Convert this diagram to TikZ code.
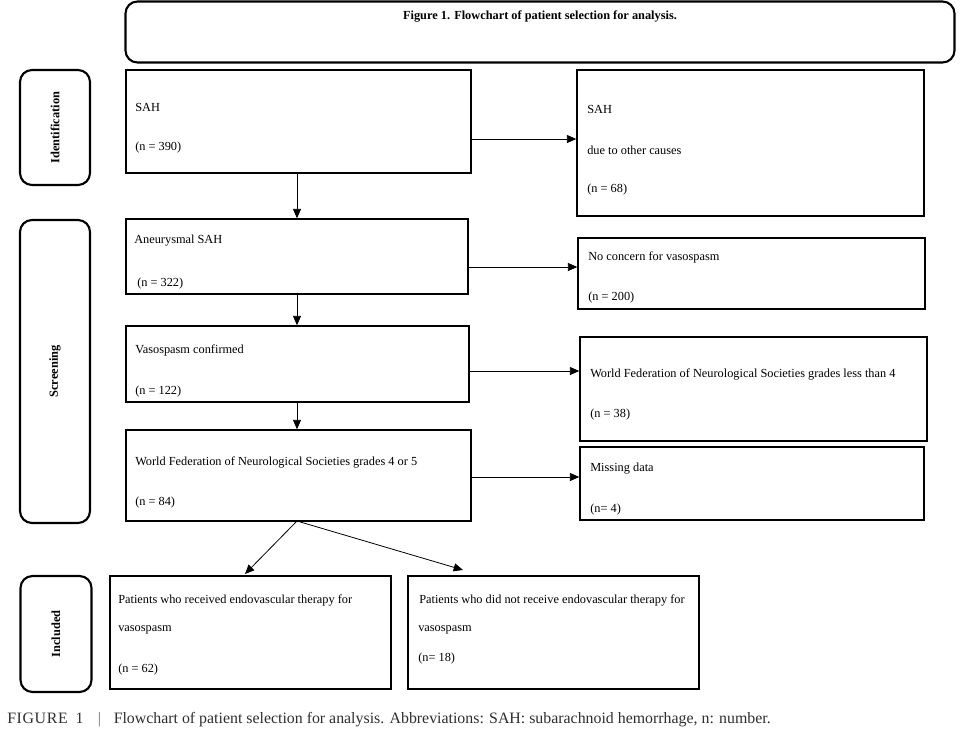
\documentclass[tikz,border=0pt]{standalone}
\usepackage{fontspec}
\setmainfont{Liberation Serif}
\usetikzlibrary{arrows.meta}
\definecolor{capgray}{HTML}{2E2E2E}
\tikzset{
  box/.style={draw=black, line width=1.1pt, rectangle, inner sep=0pt},
  phase/.style={draw=black, line width=1.6pt, rectangle, rounded corners=9pt, inner sep=0pt},
  txt/.style={anchor=west, inner sep=0pt, font=\fontsize{9.25}{11}\selectfont},
  plabel/.style={rotate=90, inner sep=0pt, font=\bfseries\fontsize{9.3}{10}\selectfont},
  conn/.style={line width=0.6pt, -{Triangle[length=7pt,width=6pt]}},
}
\begin{document}
\begin{tikzpicture}[x=0.75pt,y=-0.75pt]
\useasboundingbox (0,0) rectangle (960,736);
% title
\node[phase, minimum width={829*0.75pt}, minimum height={61*0.75pt}] (title) at (540,32) {};
\node[inner sep=0pt, font=\bfseries\fontsize{9.25}{10}\selectfont] (titletxt) at (540,17) {Figure 1. Flowchart of patient selection for analysis.};
% phases
\node[phase, minimum width={70*0.75pt}, minimum height={115*0.75pt}] (ident) at (55,127.5) {};
\node[plabel] (identtxt) at (ident.center) {Identification};
\node[phase, minimum width={70*0.75pt}, minimum height={303*0.75pt}] (screen) at (55,371.5) {};
\node[plabel] (screentxt) at (screen.center) {Screening};
\node[phase, minimum width={71*0.75pt}, minimum height={116*0.75pt}] (incl) at (56,634) {};
\node[plabel] (incltxt) at (incl.center) {Included};
% boxes
\node[box, minimum width={345*0.75pt}, minimum height={103*0.75pt}] (sah) at (298.5,121.5) {};
\node[box, minimum width={347*0.75pt}, minimum height={146*0.75pt}] (other) at (750.5,143) {};
\node[box, minimum width={342*0.75pt}, minimum height={75*0.75pt}] (aneu) at (297,256.5) {};
\node[box, minimum width={347*0.75pt}, minimum height={71*0.75pt}] (nocon) at (751.5,273.5) {};
\node[box, minimum width={343*0.75pt}, minimum height={76*0.75pt}] (vaso) at (297.5,364) {};
\node[box, minimum width={347*0.75pt}, minimum height={104*0.75pt}] (less4) at (753.5,389) {};
\node[box, minimum width={345*0.75pt}, minimum height={91*0.75pt}] (wfns) at (298.5,475.5) {};
\node[box, minimum width={344*0.75pt}, minimum height={73*0.75pt}] (miss) at (752,483.5) {};
\node[box, minimum width={281*0.75pt}, minimum height={113*0.75pt}] (recv) at (250.5,632.5) {};
\node[box, minimum width={291*0.75pt}, minimum height={113*0.75pt}] (norecv) at (553.5,632.5) {};
% texts
\node[txt] (t1) at (135,107) {SAH};
\node[txt] (t2) at (135,148) {(n = 390)};
\node[txt] (t3) at (587,109) {SAH};
\node[txt] (t4) at (587,150) {due to other causes};
\node[txt] (t5) at (587,190) {(n = 68)};
\node[txt] (t6) at (134,241) {Aneurysmal SAH};
\node[txt] (t7) at (137,284) {(n = 322)};
\node[txt] (t8) at (588,257) {No concern for vasospasm};
\node[txt] (t9) at (588,298) {(n = 200)};
\node[txt] (t10) at (135,350) {Vasospasm confirmed};
\node[txt] (t11) at (135,392) {(n = 122)};
\node[txt] (t12) at (590,374) {World Federation of Neurological Societies grades less than 4};
\node[txt] (t13) at (590,415) {(n = 38)};
\node[txt] (t14) at (135,462) {World Federation of Neurological Societies grades 4 or 5};
\node[txt] (t15) at (135,503) {(n = 84)};
\node[txt] (t16) at (590,469) {Missing data};
\node[txt] (t17) at (590,510) {(n= 4)};
\node[txt] (t18) at (118,600) {Patients who received endovascular therapy for};
\node[txt] (t19) at (118,630) {vasospasm};
\node[txt] (t20) at (118,670) {(n = 62)};
\node[txt] (t21) at (419,600) {Patients who did not receive endovascular therapy for};
\node[txt] (t22) at (418,630) {vasospasm};
\node[txt] (t23) at (418,659) {(n= 18)};
% connectors
\coordinate (split) at (297,521);
\coordinate (recvtip) at (245,574);
\coordinate (norecvtip) at (463,570);
\draw[conn] (sah.east |- 0,139) -- (other.west |- 0,139);
\draw[conn] (sah.south -| 297,0) -- (aneu.north -| 297,0);
\draw[conn] (aneu.east |- 0,267) -- (nocon.west |- 0,267);
\draw[conn] (aneu.south -| 297,0) -- (vaso.north -| 297,0);
\draw[conn] (vaso.east |- 0,371) -- (less4.west |- 0,371);
\draw[conn] (vaso.south -| 297,0) -- (wfns.north -| 297,0);
\draw[conn] (wfns.east |- 0,477) -- (miss.west |- 0,477);
\draw[conn] (split) -- (recvtip);
\draw[conn] (split) -- (norecvtip);
% caption
\node[anchor=west, inner sep=0pt, text=capgray, font=\fontsize{11.9}{13}\selectfont] (cap) at (7,720) {{\addfontfeatures{LetterSpace=4}FIGURE\hspace{0.5em}1}\hspace{0.9em}\textcolor{capgray!70}{|}\hspace{0.8em}Flowchart of patient selection for analysis. Abbreviations: SAH: subarachnoid hemorrhage, n: number.};
\end{tikzpicture}
\end{document}
